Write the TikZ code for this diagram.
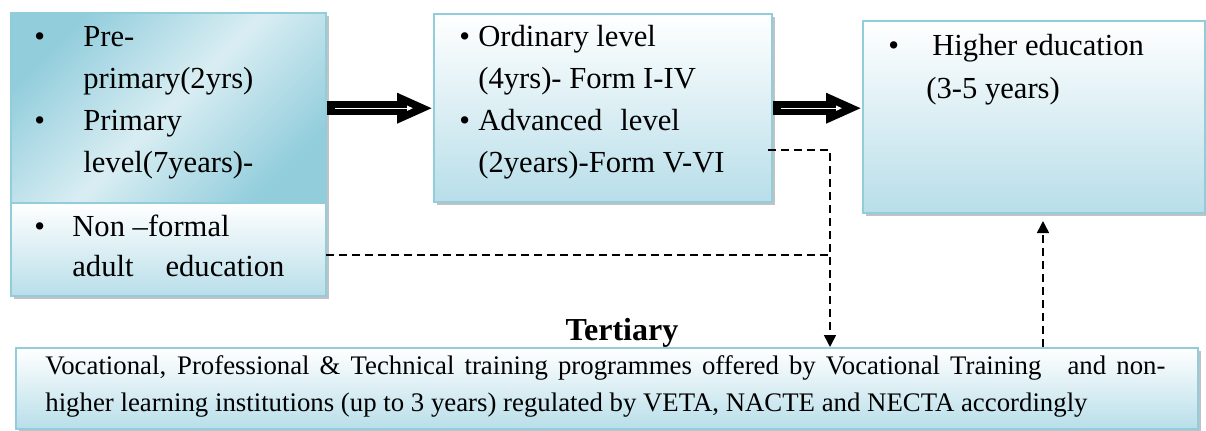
\documentclass[tikz,border=0pt]{standalone}
\usepackage{fontspec}
\setmainfont{LiberationSerif}[
  Extension = .ttf,
  UprightFont = *-Regular,
  BoldFont = *-Bold,
  ItalicFont = *-Italic,
  BoldItalicFont = *-BoldItalic]
\usetikzlibrary{arrows.meta,shadows}

\definecolor{aqua}{HTML}{92CDDC}
\definecolor{aqualight}{HTML}{B8DEE9}

\begin{document}
\begin{tikzpicture}[x=0.5pt,y=-0.5pt,
    box/.style = {
      draw = aqua,
      line width = 1.2pt,
      anchor = north west,
      inner sep = 0pt,
      top color = white,
      bottom color = aqualight,
      drop shadow = {shadow xshift=1.5pt, shadow yshift=-1.5pt,
                     fill=gray!80, opacity=.6}
    },
    txt/.style = {
      anchor = base west,
      inner sep = 0pt,
      font = \fontsize{15.3pt}{21pt}\selectfont
    },
    fatarrow/.style = {
      line width = 7pt,
      -{Triangle[length=18pt,width=14pt]}
    },
    thinarrow/.style = {
      white,
      line width = 0.7pt,
      -{Triangle[length=3pt,width=2.5pt]}
    },
    dashline/.style = {
      line width = 0.8pt,
      dash pattern = on 4pt off 2.5pt
    }
  ]
  \useasboundingbox (0,0) rectangle (1206,430);

  % boxes
  \node[box, minimum width=157.5pt, minimum height=95pt,
        left color=aqua, right color=aqua, middle color=aqua!35,
        shading angle=45] (L1) at (10,12) {};
  \node[box, minimum width=157.5pt, minimum height=46.5pt] (L2) at (10,202) {};
  \node[box, minimum width=169pt, minimum height=94pt] (M) at (433,13) {};
  \node[box, minimum width=171pt, minimum height=96pt] (R) at (862,20) {};
  \node[box, minimum width=591pt, minimum height=40.5pt] (B) at (15,347) {};

  % texts
  \node[txt] (prim) at (34,46) {\begin{tabular}[t]{@{}p{24.5pt}@{}l@{}}
      \textbullet & Pre-\\
                  & primary(2yrs)\\
      \textbullet & Primary\\
                  & level(7years)-
    \end{tabular}};
  \node[txt, font=\fontsize{15.3pt}{20pt}\selectfont] (nonf) at (34,236) {\begin{tabular}[t]{@{}p{19pt}@{}l@{}}
      \textbullet & Non –formal\\
                  & adult\hspace{16pt}education
    \end{tabular}};
  \node[txt] (sec) at (459,46) {\begin{tabular}[t]{@{}p{9.5pt}@{}l@{}}
      \textbullet & Ordinary level\\
                  & (4yrs)- Form I-IV\\
      \textbullet & Advanced\hspace{9pt}level\\
                  & (2years)-Form V-VI
    \end{tabular}};
  \node[txt, font=\fontsize{15.3pt}{21.5pt}\selectfont] (high) at (888,55) {\begin{tabular}[t]{@{}p{22pt}@{}l@{}}
      \textbullet & Higher education\\
                  & \hspace*{-3pt}(3-5 years)
    \end{tabular}};
  \node[anchor=base, inner sep=0pt, font=\fontsize{16pt}{18pt}\selectfont\bfseries]
    (tert) at (622,340) {Tertiary};
  \node[txt, font=\fontsize{13.4pt}{18.5pt}\selectfont] (voc) at (45,374) {\begin{tabular}[t]{@{}l@{}}
      \makebox[560pt][s]{Vocational, Professional \& Technical training programmes offered by Vocational Training\hspace{8pt} and non-}\\
      higher learning institutions (up to 3 years) regulated by VETA, NACTE and NECTA accordingly
    \end{tabular}};

  % arrows
  \draw[fatarrow] (L1.east) -- (M.west);
  \draw[thinarrow] ([xshift=4pt]L1.east) -- ([xshift=-10pt]M.west);
  \draw[fatarrow] (M.east) -- (M.east -| R.west);
  \draw[thinarrow] ([xshift=4pt]M.east) -- ([xshift=-10pt]M.east -| R.west);

  \coordinate (adv) at (768,150);
  \coordinate (bend) at (830,150);
  \coordinate (nfend) at (326,255);
  \coordinate (up) at (1043,347);
  \coordinate (uptip) at (1043,221);

  \draw[dashline] (nfend) -- (nfend -| bend);
  \draw[dashline, -{Triangle[length=6pt,width=6pt]}] (adv) -- (bend) -- (bend |- B.north);
  \draw[dashline, -{Triangle[length=6pt,width=6pt]}] (up) -- (uptip);
\end{tikzpicture}
\end{document}
